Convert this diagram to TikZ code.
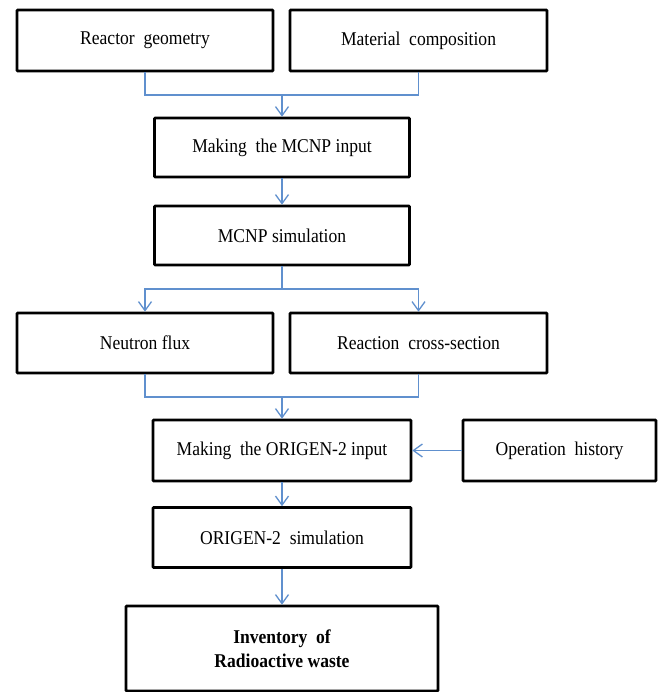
\documentclass[tikz,border=0pt]{standalone}
\usepackage{fontspec}
\setmainfont[FakeStretch=0.9]{Liberation Serif}
\usetikzlibrary{arrows.meta}
\definecolor{conn}{RGB}{96,144,206}
\begin{document}
\begin{tikzpicture}[x=1pt,y=-1pt,
  box/.style={draw=black,line width=2.6pt,fill=white,inner sep=0pt,align=center,
    font=\fontsize{19.5}{24}\selectfont,rounded corners=0.8pt},
  link/.style={draw=conn,line width=1.3pt},
  arr/.style={link,-{Straight Barb[length=9pt,width=13pt,line width=1.3pt]}}]
\useasboundingbox[fill=white] (0,0) rectangle (657,692);
\node[box,minimum width=256pt,minimum height=61pt] (rg) at (145,40.5) {Reactor\ \ geometry};
\node[box,minimum width=257pt,minimum height=61pt] (mc) at (418.5,40.5) {Material\ \ composition};
\node[box,minimum width=255pt,minimum height=59pt] (mi) at (282,147.5) {Making\ \ the MCNP input};
\node[box,minimum width=255pt,minimum height=59pt] (ms) at (282,235.5) {MCNP simulation};
\node[box,minimum width=256pt,minimum height=60pt] (nf) at (145,343) {Neutron flux};
\node[box,minimum width=257pt,minimum height=60pt] (rc) at (418.5,343) {Reaction\ \ cross-section};
\node[box,minimum width=258pt,minimum height=61pt] (oi) at (282,450.5) {Making\ \ the ORIGEN-2 input};
\node[box,minimum width=193pt,minimum height=61pt] (oh) at (559.5,450.5) {Operation\ \ history};
\node[box,minimum width=258pt,minimum height=60pt] (os) at (282,537.5) {ORIGEN-2\ \ simulation};
\node[box,minimum width=312pt,minimum height=85pt] (inv) at (282,648.5) {\bfseries Inventory\ \ of\\\bfseries Radioactive waste};
\coordinate (j1) at (282,95);
\coordinate (j2) at (282,289);
\coordinate (j3) at (282,397);
\draw[link] (rg.south) |- (j1) -| (mc.south);
\draw[arr] (j1) -- (mi.north);
\draw[arr] (mi.south) -- (ms.north);
\draw[link] (ms.south) -- (j2);
\draw[arr] (j2) -| (nf.north);
\draw[arr] (j2) -| (rc.north);
\draw[link] (nf.south) |- (j3) -| (rc.south);
\draw[arr] (j3) -- (oi.north);
\draw[arr] (oh.west) -- (oi.east);
\draw[arr] (oi.south) -- (os.north);
\draw[arr] (os.south) -- (inv.north);
\end{tikzpicture}
\end{document}
